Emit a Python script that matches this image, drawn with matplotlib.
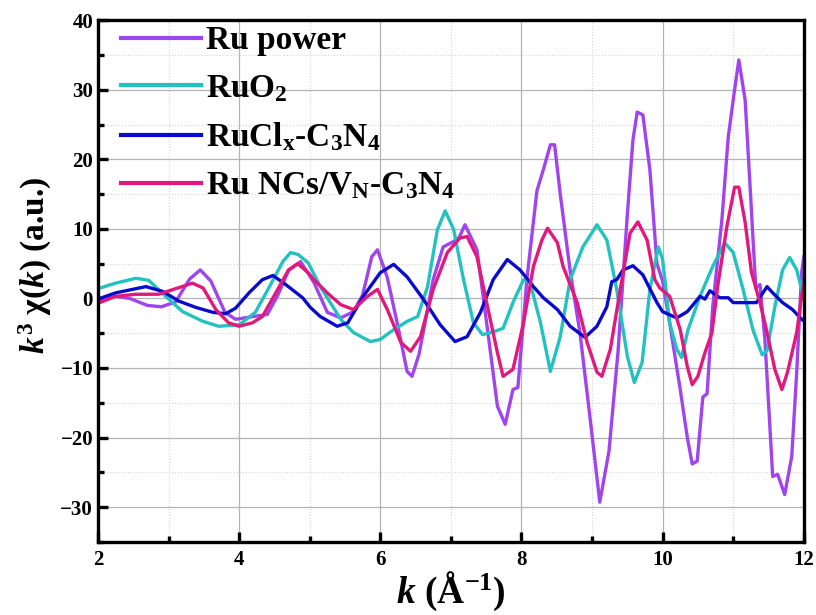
import matplotlib
matplotlib.use('Agg')
import matplotlib.pyplot as plt
from matplotlib.ticker import MultipleLocator

plt.rcParams['font.family'] = ['Liberation Serif', 'DejaVu Serif']
plt.rcParams['font.weight'] = 'bold'
plt.rcParams['axes.labelweight'] = 'bold'
plt.rcParams['mathtext.fontset'] = 'custom'
plt.rcParams['mathtext.rm'] = 'Liberation Serif:bold'
plt.rcParams['mathtext.it'] = 'Liberation Serif:italic:bold'
plt.rcParams['mathtext.bf'] = 'Liberation Serif:bold'

# k (1/A), chi values
ru_power = [(2.0, -0.5), (2.2, 0.4), (2.45, 0.0), (2.7, -1.0), (2.9, -1.2), (3.1, -0.5),
            (3.3, 2.8), (3.45, 4.1), (3.6, 2.5), (3.8, -2.0), (3.95, -3.0), (4.2, -2.6),
            (4.4, -2.3), (4.55, 0.5), (4.7, 4.0), (4.87, 5.3), (5.06, 2.3), (5.25, -2.0),
            (5.44, -2.8), (5.62, -1.9), (5.75, 0.5), (5.88, 6.0), (5.96, 7.0), (6.1, 3.0),
            (6.25, -4.0), (6.38, -10.5), (6.45, -11.2), (6.55, -8.0), (6.75, 2.7), (6.89, 7.4),
            (7.04, 8.2), (7.12, 8.8), (7.2, 10.6), (7.37, 7.0), (7.52, -4.5), (7.66, -15.5),
            (7.77, -18.1), (7.88, -13.1), (7.95, -12.8), (8.08, 3.0), (8.22, 15.5), (8.31, 18.5),
            (8.41, 22.1), (8.47, 22.1), (8.55, 15.0), (8.69, 4.0), (8.83, -5.0), (8.97, -17.0),
            (9.11, -29.3), (9.24, -22.0), (9.37, -7.5), (9.5, 12.0), (9.58, 22.8), (9.64, 26.8),
            (9.72, 26.4), (9.82, 18.5), (9.92, 5.0), (10.0, 2.5), (10.1, -3.5), (10.25, -13.1),
            (10.35, -20.0), (10.42, -23.8), (10.49, -23.4), (10.57, -14.2), (10.63, -13.7),
            (10.71, -1.2), (10.84, 11.3), (10.93, 23.2), (11.02, 30.0), (11.08, 34.3),
            (11.17, 28.5), (11.24, 16.0), (11.32, 1.5), (11.38, 2.0), (11.45, -6.0),
            (11.56, -25.6), (11.63, -25.3), (11.73, -28.2), (11.83, -22.7), (11.9, -10.6),
            (11.97, 3.7), (12.0, 6.0)]

ruo2 = [(2.0, 1.4), (2.25, 2.2), (2.54, 2.9), (2.72, 2.6), (2.96, 0.3), (3.2, -1.9),
        (3.49, -3.3), (3.71, -4.0), (4.0, -3.8), (4.23, -2.0), (4.42, 1.5), (4.62, 5.3),
        (4.73, 6.6), (4.84, 6.3), (4.98, 5.1), (5.15, 1.7), (5.44, -3.0), (5.62, -4.9),
        (5.86, -6.2), (6.0, -5.9), (6.19, -4.5), (6.38, -3.3), (6.53, -2.6), (6.67, 1.7),
        (6.81, 9.9), (6.92, 12.6), (7.04, 9.9), (7.18, 2.7), (7.32, -3.5), (7.45, -5.2),
        (7.6, -4.8), (7.74, -4.3), (7.88, -0.6), (8.03, 2.7), (8.12, 2.4), (8.27, -3.5),
        (8.41, -10.5), (8.55, -5.5), (8.69, 2.7), (8.87, 7.4), (9.07, 10.6), (9.21, 8.4),
        (9.35, 1.3), (9.5, -8.3), (9.6, -12.1), (9.71, -9.2), (9.82, 1.3), (9.94, 7.4),
        (10.0, 5.6), (10.1, -3.5), (10.2, -7.3), (10.27, -8.5), (10.36, -4.5), (10.53, 0.3),
        (10.71, 4.6), (10.88, 8.0), (11.0, 6.6), (11.14, 1.3), (11.28, -4.5), (11.41, -8.1),
        (11.48, -7.5), (11.59, -1.2), (11.7, 4.1), (11.8, 5.9), (11.9, 4.1), (11.97, 1.3),
        (12.0, 0.0)]

rucl_c3n4 = [(2.0, -0.1), (2.25, 0.8), (2.68, 1.7), (2.92, 1.0), (3.15, -0.4), (3.39, -1.3),
             (3.63, -2.0), (3.81, -2.2), (3.95, -1.4), (4.14, 0.8), (4.33, 2.7), (4.48, 3.3),
             (4.66, 2.0), (4.9, 0.1), (5.01, -1.3), (5.15, -2.6), (5.39, -4.0), (5.54, -3.5),
             (5.76, 0.3), (6.0, 3.7), (6.19, 4.9), (6.38, 3.1), (6.61, -0.1), (6.85, -3.8),
             (7.06, -6.2), (7.23, -5.5), (7.42, -2.0), (7.6, 2.7), (7.8, 5.6), (7.98, 4.1),
             (8.17, 1.7), (8.31, 0.1), (8.51, -1.6), (8.69, -4.0), (8.9, -5.6), (9.07, -4.0),
             (9.21, -1.2), (9.28, 2.4), (9.35, 2.7), (9.44, 4.1), (9.58, 4.7), (9.72, 3.4),
             (9.92, -0.6), (10.0, -1.9), (10.2, -2.8), (10.35, -1.9), (10.53, 0.3), (10.6, -0.1),
             (10.67, 1.1), (10.81, 0.1), (10.93, 0.1), (11.0, -0.6), (11.19, -0.6), (11.33, -0.6),
             (11.48, 1.7), (11.56, 0.8), (11.7, -0.6), (11.84, -1.6), (11.97, -3.0), (12.0, -3.2)]

ru_ncs = [(2.0, -0.7), (2.25, 0.3), (2.54, 0.6), (2.86, 0.6), (3.1, 1.4), (3.34, 2.2),
          (3.49, 1.5), (3.67, -1.6), (3.85, -3.5), (4.0, -4.0), (4.19, -3.5), (4.33, -2.6),
          (4.52, 0.8), (4.7, 4.1), (4.83, 5.0), (4.98, 3.7), (5.06, 2.7), (5.25, 0.8),
          (5.44, -0.9), (5.62, -1.6), (5.82, 0.3), (5.96, 1.3), (6.1, -1.6), (6.29, -6.3),
          (6.43, -7.6), (6.57, -5.5), (6.75, 1.3), (6.95, 6.6), (7.13, 8.7), (7.23, 8.9),
          (7.37, 6.0), (7.52, -1.2), (7.66, -7.8), (7.74, -11.2), (7.88, -10.2), (8.03, -3.5),
          (8.17, 4.6), (8.29, 8.4), (8.37, 10.1), (8.51, 8.0), (8.59, 4.6), (8.79, -0.6),
          (8.93, -6.3), (9.07, -10.6), (9.14, -11.2), (9.26, -7.3), (9.4, 1.3), (9.54, 9.4),
          (9.65, 11.0), (9.78, 8.4), (9.89, 2.7), (9.96, 1.5), (10.1, 0.3), (10.25, -4.5),
          (10.35, -9.8), (10.42, -12.4), (10.5, -11.2), (10.6, -7.8), (10.7, -4.9), (10.78, 1.7),
          (10.91, 10.3), (11.02, 16.0), (11.08, 16.0), (11.17, 10.9), (11.26, 3.7), (11.38, -0.6),
          (11.48, -4.9), (11.59, -10.2), (11.69, -13.1), (11.77, -10.6), (11.9, -4.9),
          (11.97, 0.3), (12.0, 2.0)]

series = [
    (ru_power, '#A044F0', 'Ru power'),
    (ruo2, '#22C2C0', r'RuO$_2$'),
    (rucl_c3n4, '#0A0ACC', r'RuCl$_\mathrm{x}$-C$_3$N$_4$'),
    (ru_ncs, '#E2187C', r'Ru NCs/V$_\mathrm{N}$-C$_3$N$_4$'),
]

fig = plt.figure(figsize=(8.16, 6.15), dpi=100)
ax = fig.add_axes([0.120, 0.119, 0.865, 0.848])

for data, col, lab in series:
    k = [p[0] for p in data]
    chi = [p[1] for p in data]
    ax.plot(k, chi, color=col, lw=2.4, label=lab, solid_joinstyle='round')

ax.set_xlim(2, 12)
ax.set_ylim(-35, 40)
ax.xaxis.set_major_locator(MultipleLocator(2))
ax.xaxis.set_minor_locator(MultipleLocator(1))
ax.yaxis.set_major_locator(MultipleLocator(10))
ax.yaxis.set_minor_locator(MultipleLocator(5))

ax.grid(which='major', color='#b4b4b4', lw=0.9, ls='-')
ax.grid(which='minor', color='#d4d4d4', lw=0.8, ls=':')
ax.set_axisbelow(True)

for s in ax.spines.values():
    s.set_linewidth(2.4)
ax.tick_params(which='both', direction='in', width=2.4, labelsize=15, top=False, right=False)
ax.tick_params(which='major', length=7)
ax.tick_params(which='minor', length=4)
ax.tick_params(axis='x', pad=6)

ax.set_xlabel(r'$\mathit{k}$ (Å$^{-1}$)', fontsize=27, labelpad=0)
ax.set_ylabel(r'$\mathit{k}^3$ χ($\mathit{k}$) (a.u.)', fontsize=24)
ax.yaxis.set_label_coords(-0.062, 0.53)

leg = ax.legend(loc='upper left', bbox_to_anchor=(0.0, 1.035), frameon=False,
                fontsize=24, handlelength=2.4, handletextpad=0.15, labelspacing=0.5,
                borderaxespad=0.3)
for line in leg.get_lines():
    line.set_linewidth(3)

fig.savefig('out.png', dpi=100)
